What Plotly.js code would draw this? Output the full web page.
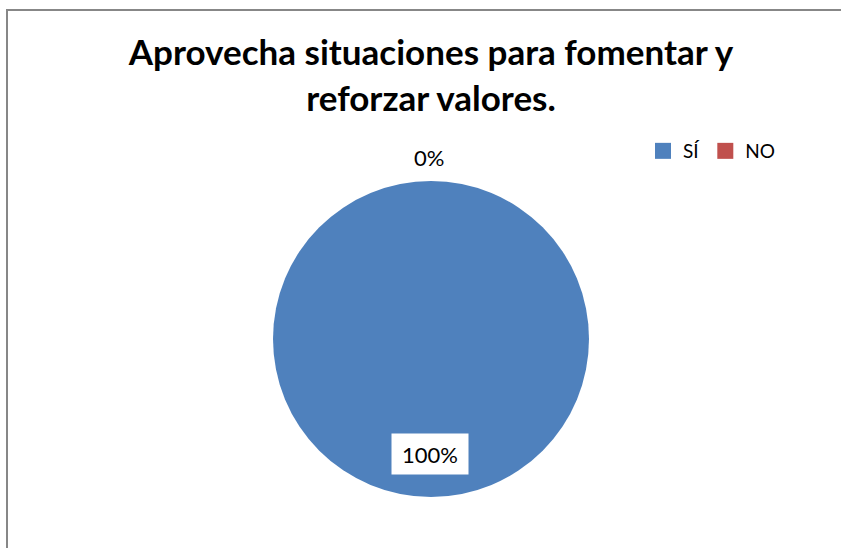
<!DOCTYPE html>
<html>
<head>
<meta charset="utf-8">
<script src="https://cdn.plot.ly/plotly-3.0.1.min.js"></script>
<style>
  html, body { margin: 0; padding: 0; background: #ffffff; }
  #chart { width: 841px; height: 548px; }
</style>
</head>
<body>
<div id="chart"></div>
<script>
// ---- data ----
const categories = ["SÍ", "NO"];
const values = [100, 0];
const colors = ["#4F81BD", "#C0504D"];
const titleText = "Aprovecha situaciones para fomentar y<br>reforzar valores.";

const W = 841, H = 548;
const px = x => x / W;
const py = y => 1 - y / H;

const total = values.reduce((a, b) => a + b, 0);
const pctText = values.map(v => Math.round(v / total * 100) + "%");

const pie = {
  type: "pie",
  labels: categories,
  values: values,
  marker: { colors: colors, line: { width: 0 } },
  sort: false,
  direction: "clockwise",
  rotation: 0,
  textinfo: "none",
  hoverinfo: "none",
  showlegend: false,
  domain: { x: [px(273), px(589)], y: [py(497), py(181)] }
};

// legend entries (square markers) built from the same categories/colours
const legendTraces = categories.map((c, i) => ({
  type: "scatter",
  mode: "markers",
  x: [null], y: [null],
  name: c,
  marker: { symbol: "square", size: 16, color: colors[i] },
  showlegend: true,
  hoverinfo: "none"
}));

const font = "Lato, 'Open Sans', sans-serif";

const layout = {
  width: W, height: H,
  margin: { l: 0, r: 0, t: 0, b: 0 },
  paper_bgcolor: "#ffffff",
  plot_bgcolor: "rgba(0,0,0,0)",
  showlegend: true,
  xaxis: { visible: false, range: [0, 1] },
  yaxis: { visible: false, range: [0, 1] },
  title: {
    text: titleText,
    font: { family: font, size: 35, color: "#000000", weight: "bold" },
    xref: "container", yref: "container",
    x: px(431), xanchor: "center",
    y: py(65), yanchor: "middle"
  },
  legend: {
    orientation: "h",
    x: px(643), xanchor: "left",
    y: py(132), yanchor: "top",
    font: { family: font, size: 19, color: "#000000" },
    bgcolor: "rgba(0,0,0,0)",
    itemclick: false, itemdoubleclick: false
  },
  annotations: [
    {
      xref: "paper", yref: "paper",
      x: px(429), y: py(158),
      xanchor: "center", yanchor: "middle",
      text: pctText[1],
      showarrow: false,
      font: { family: font, size: 22, color: "#000000" }
    },
    {
      xref: "paper", yref: "paper",
      x: px(430), y: py(454),
      xanchor: "center", yanchor: "middle",
      text: pctText[0],
      showarrow: false,
      bgcolor: "#ffffff",
      width: 72, height: 36, borderpad: 2,
      font: { family: font, size: 22, color: "#000000" }
    }
  ],
  shapes: [
    {
      type: "path", xref: "paper", yref: "paper",
      path: `M ${px(7)},0 L ${px(7)},${py(10)} L 1,${py(10)}`,
      line: { color: "#878787", width: 2 }
    }
  ]
};

Plotly.newPlot("chart", [pie, ...legendTraces], layout, { displayModeBar: false, staticPlot: true });
</script>
</body>
</html>
